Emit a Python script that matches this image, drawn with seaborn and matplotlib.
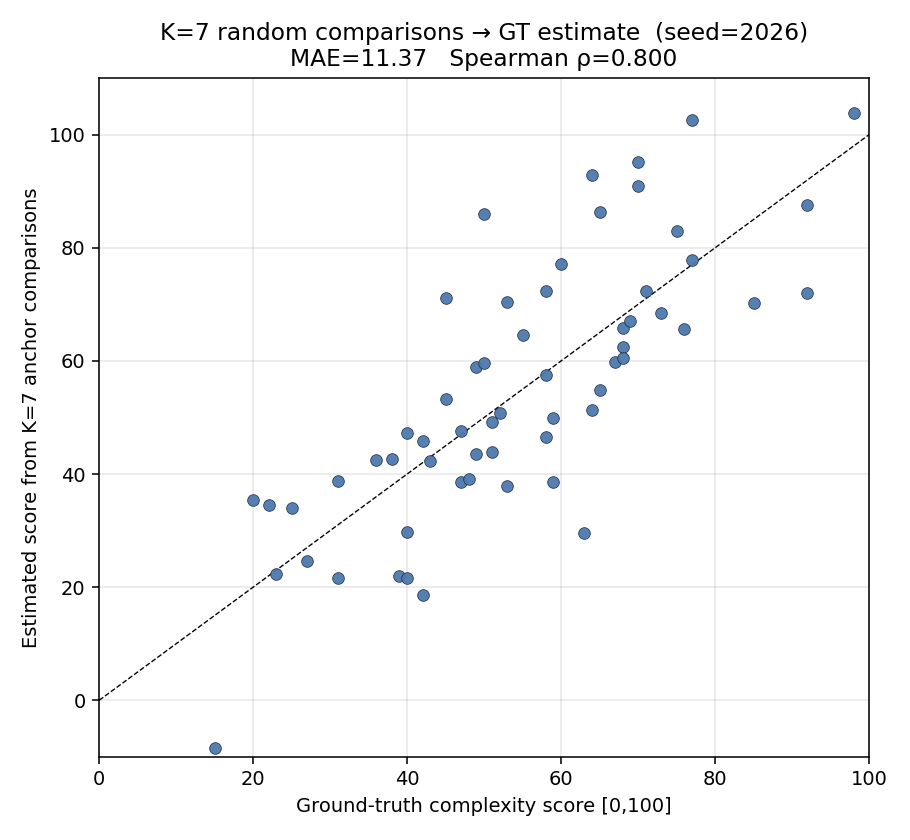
import numpy as np
import pandas as pd
import matplotlib
matplotlib.use("Agg")
import matplotlib.pyplot as plt
import seaborn as sns

# --- data ---
gt_score = [20, 22, 25, 23, 27, 31, 31, 36, 38, 40, 40, 39, 40, 42, 42, 43, 45, 45,
            47, 47, 48, 49, 49, 50, 50, 51, 51, 52, 53, 53, 55, 58, 58, 58, 59, 59,
            60, 63, 64, 64, 65, 65, 67, 68, 68, 68, 69, 70, 70, 71, 73, 75, 76, 77,
            77, 85, 92, 92, 98, 15]
est_score = [35.4, 34.6, 34.0, 22.4, 24.7, 38.8, 21.7, 42.5, 42.7, 47.3, 29.8, 21.9,
             21.7, 45.9, 18.7, 42.3, 71.1, 53.3, 47.6, 38.6, 39.2, 58.9, 43.6, 85.9,
             59.6, 49.2, 43.9, 50.8, 70.5, 37.9, 64.6, 72.3, 57.5, 46.6, 49.9, 38.6,
             77.1, 29.6, 92.9, 51.3, 86.4, 54.8, 59.8, 65.8, 62.4, 60.5, 67.0, 95.2,
             91.0, 72.3, 68.4, 82.9, 65.6, 102.6, 77.8, 70.2, 87.5, 72.0, 103.9, -8.5]

df = pd.DataFrame({"gt": gt_score, "est": est_score})

fig, ax = plt.subplots(figsize=(6.5, 6.0), dpi=140)
fig.subplots_adjust(left=0.109, right=0.955, top=0.907, bottom=0.099)

# scatter of estimates vs ground truth
sns.scatterplot(data=df, x="gt", y="est", ax=ax, s=36, color="#4e79ae",
                edgecolor="#1f2f45", linewidth=0.4, alpha=0.95, zorder=3)
# identity line
ax.axline((0, 0), slope=1, color="black", linestyle="--", linewidth=0.7, zorder=2)

ax.set_xlim(0, 100)
ax.set_ylim(-10, 110)
ax.set_xticks([0, 20, 40, 60, 80, 100])
ax.set_yticks([0, 20, 40, 60, 80, 100])
ax.grid(True, alpha=0.3)
ax.set_axisbelow(True)

ax.set_xlabel("Ground-truth complexity score [0,100]")
ax.set_ylabel("Estimated score from K=7 anchor comparisons")
ax.set_title("K=7 random comparisons \u2192 GT estimate  (seed=2026)\nMAE=11.37   Spearman \u03c1=0.800")

plt.savefig("out.png", dpi=140)
plt.close()
